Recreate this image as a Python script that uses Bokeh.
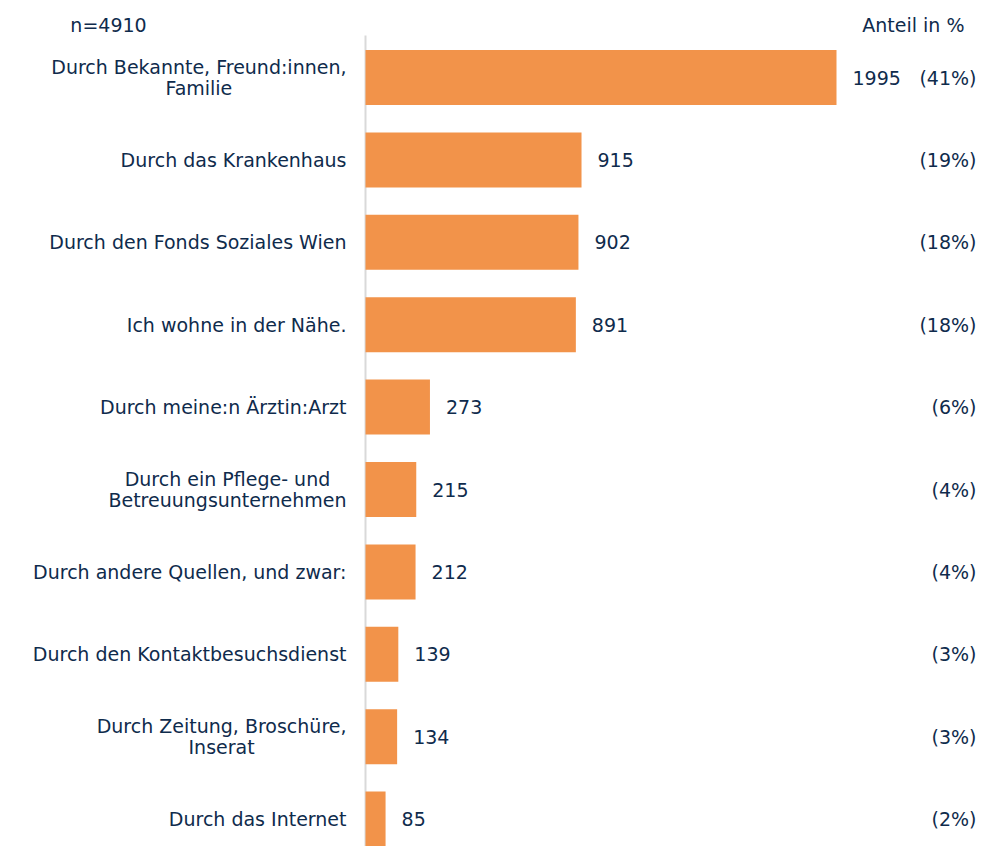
from bokeh.plotting import figure
from bokeh.models import Range1d, ColumnDataSource
from bokeh.embed import file_html
from bokeh.resources import INLINE
from bokeh.core.properties import value

# ---- data ----
categories = [
    "Durch Bekannte, Freund:innen,\nFamilie",
    "Durch das Krankenhaus",
    "Durch den Fonds Soziales Wien",
    "Ich wohne in der Nähe.",
    "Durch meine:n Ärztin:Arzt",
    "Durch ein Pflege- und\nBetreuungsunternehmen",
    "Durch andere Quellen, und zwar:",
    "Durch den Kontaktbesuchsdienst",
    "Durch Zeitung, Broschüre,\nInserat",
    "Durch das Internet",
]
counts = [1995, 915, 902, 891, 273, 215, 212, 139, 134, 85]
shares = ["(41%)", "(19%)", "(18%)", "(18%)", "(6%)", "(4%)", "(4%)", "(3%)", "(3%)", "(2%)"]
n_label = "n=4910"
share_header = "Anteil in %"

# ---- layout / style ----
W, H = 979, 846
AXIS_PX = 365            # pixel position of the zero line
PX_PER_UNIT = 471 / 1995
ROW_PX = 82.4
FIRST_ROW_PX = 77
FONT = value("DejaVu Sans")
FS = "19px"
TXT = "#0f2b4c"
BAR = "#f2934a"

x0 = -AXIS_PX / PX_PER_UNIT
x1 = (W - AXIS_PX) / PX_PER_UNIT
ytop = -FIRST_ROW_PX / ROW_PX
ybot = ytop + H / ROW_PX

p = figure(width=W, height=H, output_backend="svg", toolbar_location=None,
           x_range=Range1d(x0, x1), y_range=Range1d(ybot, ytop),
           min_border=0, outline_line_color=None)
p.xaxis.visible = False
p.yaxis.visible = False
p.grid.visible = False
p.background_fill_color = None
p.border_fill_color = None

idx = list(range(len(counts)))
src = ColumnDataSource(dict(y=idx, cnt=counts, lbl=[str(c) for c in counts],
                            cat=categories, share=shares,
                            zero=[0] * len(counts), right=[x1] * len(counts)))

# zero line
p.segment(x0=[0], y0=[ytop + 35 / ROW_PX], x1=[0], y1=[ybot], line_color="#d9d9d9", line_width=2)

p.hbar(y="y", left=0, right="cnt", height=55 / ROW_PX, source=src, fill_color=BAR, line_color=None)

p.text(x="cnt", y="y", text="lbl", source=src, x_offset=16, text_align="left",
       text_baseline="middle", text_font=FONT, text_font_size=FS, text_color=TXT)
p.text(x="zero", y="y", text="cat", source=src, x_offset=-19, text_align="center",
       anchor="center_right", text_baseline="middle", text_font=FONT,
       text_font_size=FS, text_color=TXT, text_line_height=0.98)
p.text(x="right", y="y", text="share", source=src, x_offset=-3, text_align="right",
       text_baseline="middle", text_font=FONT, text_font_size=FS, text_color=TXT)

hy = ytop + 24 / ROW_PX
p.text(x=[x0], y=[hy], text=[n_label], x_offset=108, text_align="center",
       text_baseline="middle", text_font=FONT, text_font_size=FS, text_color=TXT)
p.text(x=[x1], y=[hy], text=[share_header], x_offset=-15, text_align="right",
       text_baseline="middle", text_font=FONT, text_font_size=FS, text_color=TXT)

open("out.html", "w").write(file_html(p, INLINE))
